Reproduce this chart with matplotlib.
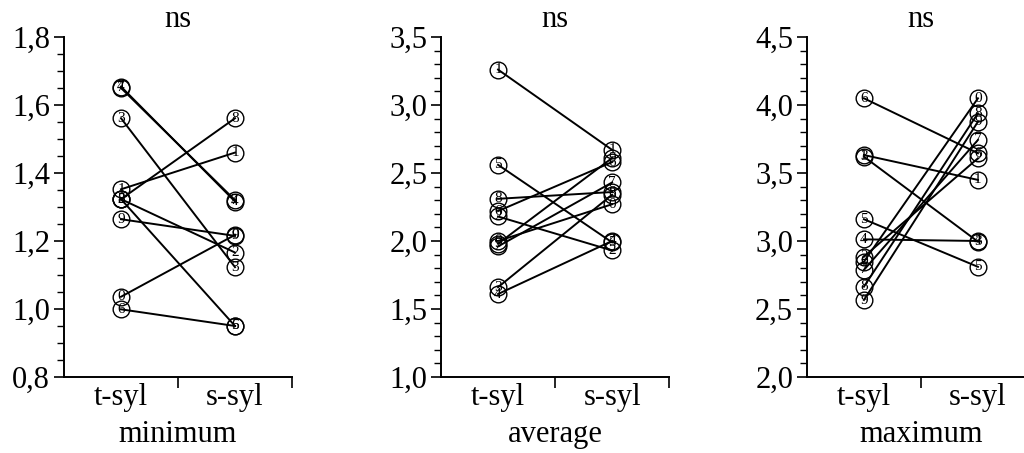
import matplotlib
matplotlib.use('Agg')
import matplotlib.pyplot as plt
from matplotlib.ticker import MultipleLocator, FuncFormatter

plt.rcParams['font.family'] = ['Liberation Serif', 'DejaVu Serif']

categories = ['t-syl', 's-syl']
subjects = ['0', '1', '2', '3', '4', '5', '6', '7', '8', '9']

min_t = [1.036, 1.352, 1.323, 1.561, 1.654, 1.323, 0.999, 1.650, 1.323, 1.264]
min_s = [1.218, 1.460, 1.166, 1.123, 1.316, 0.950, 0.950, 1.320, 1.561, 1.215]

avg_t = [2.00, 3.26, 2.18, 1.66, 1.61, 2.56, 2.22, 1.96, 2.31, 1.98]
avg_s = [2.27, 2.67, 1.93, 2.34, 2.00, 1.99, 2.58, 2.43, 2.36, 2.61]

max_t = [2.848, 3.632, 2.885, 3.620, 3.012, 3.160, 4.049, 2.787, 2.664, 2.566]
max_s = [4.049, 3.449, 3.608, 2.995, 3.000, 2.810, 3.645, 3.743, 3.939, 3.877]

panels = [
    ('minimum', min_t, min_s, (0.8, 1.8), 0.2, 0.05),
    ('average', avg_t, avg_s, (1.0, 3.5), 0.5, 0.1),
    ('maximum', max_t, max_s, (2.0, 4.5), 0.5, 0.1),
]
lefts = [0.0625, 0.4307, 0.788]

fig = plt.figure(figsize=(10.24, 4.53), dpi=100)
comma = FuncFormatter(lambda v, p: f'{v:.1f}'.replace('.', ','))

for left, (name, t_vals, s_vals, ylim, major, minor) in zip(lefts, panels):
    ax = fig.add_axes([left, 0.1678, 0.2227, 0.7506])
    for lab, a, b in zip(subjects, t_vals, s_vals):
        ax.plot([0, 1], [a, b], color='black', lw=1.4, zorder=2,
                marker='o', ms=12, mfc='none', mec='black', mew=1.0)
        ax.text(0, a, lab, ha='center', va='center', fontsize=11, zorder=3)
        ax.text(1, b, lab, ha='center', va='center', fontsize=11, zorder=3)

    ax.set_xlim(-0.5, 1.5)
    ax.set_ylim(*ylim)
    ax.spines['top'].set_visible(False)
    ax.spines['right'].set_visible(False)
    ax.spines['left'].set_linewidth(1.4)
    ax.spines['bottom'].set_linewidth(1.4)

    ax.yaxis.set_major_locator(MultipleLocator(major))
    ax.yaxis.set_minor_locator(MultipleLocator(minor))
    ax.yaxis.set_major_formatter(comma)
    ax.tick_params(axis='y', which='major', direction='out', length=7, width=1.2,
                   labelsize=22, pad=3)
    ax.tick_params(axis='y', which='minor', direction='out', length=5, width=1.0)

    ax.set_xticks([0, 1], categories)
    ax.set_xticks([0.5, 1.5], minor=True)
    ax.tick_params(axis='x', which='major', length=0, labelsize=22, pad=4)
    ax.tick_params(axis='x', which='minor', direction='out', length=8, width=1.2)

    ax.set_xlabel(name, fontsize=22, labelpad=6)
    ax.set_title('ns', fontsize=22, pad=7)

fig.savefig('out.png', dpi=100)
